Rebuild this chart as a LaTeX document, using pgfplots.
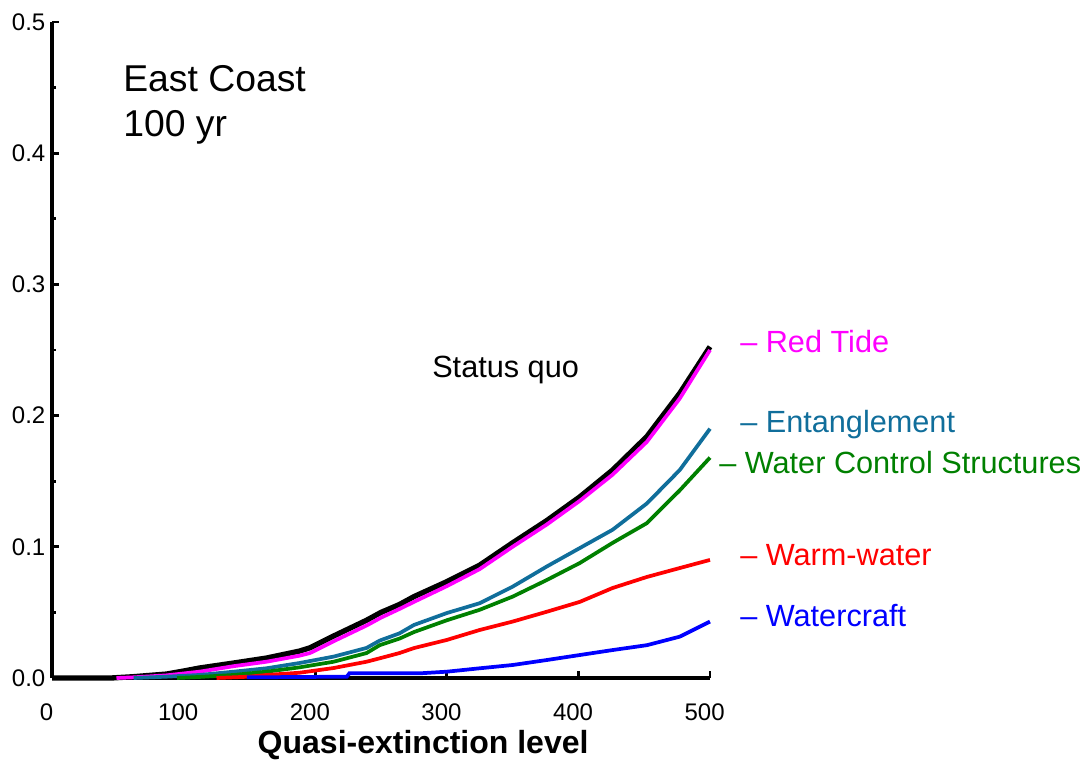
\documentclass[border=0pt]{standalone}
\usepackage{pgfplots}
\pgfplotsset{compat=1.18}
\usepackage{fontspec}
\setmainfont{Liberation Sans}
\definecolor{cmag}{RGB}{255,0,255}
\definecolor{cteal}{RGB}{16,110,155}
\definecolor{cgreen}{RGB}{0,128,0}
\definecolor{cred}{RGB}{255,0,0}
\definecolor{cblue}{RGB}{0,0,255}
\begin{document}
\begin{tikzpicture}[x=0.75pt,y=0.75pt]
\useasboundingbox (0,0) rectangle (1088,762);
\begin{axis}[
  at={(39pt,63pt)}, anchor=south west,
  scale only axis, width=493.5pt, height=492pt,
  xmin=0, xmax=500, ymin=0, ymax=0.5,
  axis x line*=bottom, axis y line*=left,
  axis line style={line width=3pt,-},
  xtick={0,100,200,300,400,500}, xticklabels={0,100,200,300,400,500},
  ytick={0,0.1,0.2,0.3,0.4,0.5}, yticklabels={0.0,0.1,0.2,0.3,0.4,0.5},
  minor ytick={0.05,0.15,0.25,0.35,0.45},
  tick align=inside,
  major tick length=5pt, minor tick length=3pt,
  tick style={line width=2.2pt, black},
  ticklabel style={font=\fontsize{18}{21}\selectfont, text=black},
  xticklabel style={yshift=-16pt, xshift=-4pt},
  yticklabel style={xshift=-1.5pt},
  xlabel={Quasi-extinction level},
  xlabel style={font=\fontsize{24}{28}\selectfont\bfseries, at={(axis description cs:0.564,-0.102)}, anchor=center},
  clip=false,
]
\addplot[black, line width=4pt] coordinates {
(0,0) (45,0) (62,0.001) (87,0.003) (100,0.0053) (112,0.0076) (138,0.0114) (163,0.0152) (188,0.0205) (196,0.023) (214,0.032) (239,0.044) (250,0.050) (264,0.056) (275,0.062) (300,0.0734) (325,0.086) (350,0.103) (376,0.120) (401,0.138) (426,0.1585) (452,0.184) (477,0.217) (500,0.2525)};
\addplot[cmag, line width=2.8pt] coordinates {
(49,0) (62,0.0005) (87,0.002) (112,0.0048) (138,0.009) (163,0.0124) (188,0.017) (196,0.019) (214,0.028) (239,0.040) (250,0.046) (264,0.0526) (275,0.058) (300,0.070) (325,0.083) (350,0.100) (376,0.117) (401,0.135) (426,0.155) (452,0.180) (477,0.213) (500,0.250)};
\addplot[cteal, line width=2.8pt] coordinates {
(62,0) (87,0.001) (112,0.0023) (138,0.0048) (163,0.0074) (188,0.0114) (214,0.0163) (239,0.0229) (249,0.0285) (264,0.034) (275,0.0404) (300,0.0495) (325,0.057) (350,0.0696) (376,0.085) (401,0.099) (426,0.113) (452,0.133) (477,0.1585) (500,0.190)};
\addplot[cgreen, line width=2.8pt] coordinates {
(95,0) (112,0.0008) (138,0.0023) (163,0.0048) (188,0.0081) (214,0.0124) (239,0.019) (249,0.025) (264,0.030) (275,0.035) (300,0.044) (325,0.052) (350,0.062) (376,0.0747) (401,0.0876) (426,0.103) (452,0.118) (477,0.143) (500,0.168)};
\addplot[cred, line width=2.8pt] coordinates {
(125,0) (150,0.001) (163,0.0023) (188,0.004) (214,0.0076) (239,0.0124) (249,0.015) (264,0.019) (275,0.0228) (300,0.029) (325,0.0366) (350,0.043) (376,0.0505) (401,0.058) (426,0.0686) (452,0.077) (477,0.0838) (500,0.090)};
\addplot[cblue, line width=2.8pt] coordinates {
(148,0.0005) (224,0.001) (226,0.0036) (280,0.0036) (300,0.0048) (325,0.0074) (350,0.0099) (376,0.0137) (401,0.0175) (426,0.0213) (452,0.025) (477,0.0315) (500,0.043)};
\end{axis}
\node[anchor=north west, inner sep=0, align=left, font=\fontsize{28}{34}\selectfont] at (123,697) {East Coast\\100 yr};
\node[anchor=base west, inner sep=0, font=\fontsize{23}{27}\selectfont] at (432,384) {Status quo};
\node[anchor=base west, inner sep=0, text=cmag, font=\fontsize{23}{27}\selectfont] at (740,409) {– Red Tide};
\node[anchor=base west, inner sep=0, text=cteal, font=\fontsize{23}{27}\selectfont] at (740,329) {– Entanglement};
\node[anchor=base west, inner sep=0, text=cgreen, font=\fontsize{23}{27}\selectfont] at (719,288) {– Water Control Structures};
\node[anchor=base west, inner sep=0, text=cred, font=\fontsize{23}{27}\selectfont] at (740,196) {– Warm-water};
\node[anchor=base west, inner sep=0, text=cblue, font=\fontsize{23}{27}\selectfont] at (740,135) {– Watercraft};
\end{tikzpicture}
\end{document}
